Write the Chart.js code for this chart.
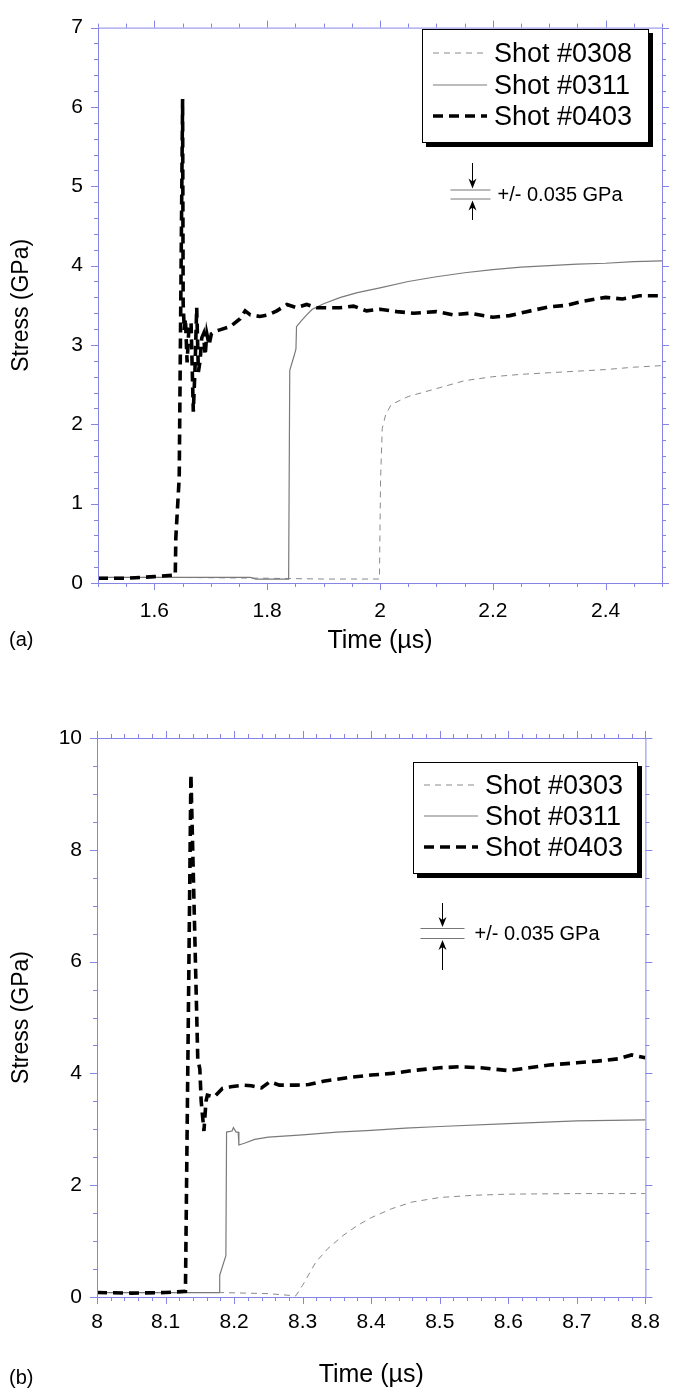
<!DOCTYPE html>
<html>
<head>
<meta charset="utf-8">
<script src="https://cdn.jsdelivr.net/npm/chart.js@4.4.1/dist/chart.umd.min.js"></script>
<style>
    body { margin: 0; background: #fff; font-family: "Liberation Sans", Arial, sans-serif; }
    .panel { position: absolute; left: 0; width: 673px; }
    .panel canvas { position: absolute; left: 0; top: 0; }
    .tag { position: absolute; left: 9px; font-size: 20px; color: #000; }
    .legend {
        position: absolute; background: #fff; border: 1.5px solid #000;
        box-shadow: 4px 4px 0 #000; box-sizing: border-box;
    }
    .legend__row { position: absolute; left: 0; height: 30px; display: flex; align-items: center; }
    .legend__row svg { margin-left: 10px; margin-right: 7px; }
    .legend__row span { font-size: 27px; line-height: 30px; color: #000; white-space: nowrap; }
</style>
</head>
<body>

<div class="panel" id="panelA" style="top:0;height:690px;">
    <canvas id="chartA" width="673" height="690"></canvas>
    <div class="tag" style="top:628px;">(a)</div>
    <div class="legend" id="legendA" style="left:422px;top:29px;width:227px;height:114px;"></div>
</div>

<div class="panel" id="panelB" style="top:690px;height:703px;">
    <canvas id="chartB" width="673" height="703"></canvas>
    <div class="tag" style="top:676px;">(b)</div>
    <div class="legend" id="legendB" style="left:413px;top:72px;width:225px;height:112px;"></div>
</div>

<script>
const axisColor = "#8585e8";

//(a) tick labels
const xTicksA = [1.6, 1.8, 2, 2.2, 2.4];
const yTicksA = [0, 1, 2, 3, 4, 5, 6, 7];

//(a) Shot #0308
const timeA308 = [1.5, 1.64, 1.8, 1.9, 1.999, 2.001, 2.004, 2.01, 2.02, 2.05, 2.1, 2.15, 2.2, 2.25, 2.3, 2.35, 2.4, 2.45, 2.5];
const stressA308 = [0.07, 0.07, 0.06, 0.05, 0.05, 1.3, 1.95, 2.12, 2.25, 2.35, 2.45, 2.55, 2.6, 2.63, 2.65, 2.67, 2.69, 2.72, 2.74];

//(a) Shot #0311
const timeA311 = [1.5, 1.64, 1.77, 1.78, 1.838, 1.84, 1.848, 1.851, 1.852, 1.86, 1.87, 1.88, 1.9, 1.93, 1.96, 2.0, 2.05, 2.1, 2.15, 2.2, 2.25, 2.3, 2.35, 2.4, 2.45, 2.5];
const stressA311 = [0.07, 0.07, 0.07, 0.05, 0.05, 2.68, 2.87, 2.95, 3.23, 3.3, 3.38, 3.45, 3.52, 3.6, 3.66, 3.72, 3.8, 3.86, 3.91, 3.95, 3.98, 4.0, 4.02, 4.03, 4.05, 4.06];

//(a) Shot #0403
const timeA403 = [1.5, 1.55, 1.6, 1.637, 1.638, 1.644, 1.65, 1.651, 1.653, 1.655, 1.658, 1.661, 1.665, 1.669, 1.672, 1.675, 1.678, 1.681, 1.684, 1.687, 1.69, 1.693, 1.697, 1.701, 1.707, 1.716, 1.734, 1.752, 1.761, 1.77, 1.787, 1.802, 1.817, 1.835, 1.852, 1.87, 1.888, 1.906, 1.929, 1.953, 1.976, 2.0, 2.03, 2.06, 2.1, 2.13, 2.16, 2.2, 2.23, 2.26, 2.3, 2.33, 2.36, 2.4, 2.43, 2.46, 2.5];
const stressA403 = [0.06, 0.06, 0.08, 0.1, 0.57, 1.33, 6.1, 3.52, 3.19, 3.33, 2.78, 3.19, 3.28, 2.16, 2.7, 3.47, 2.66, 2.8, 3.09, 3.14, 2.87, 3.14, 3.0, 3.14, 3.17, 3.19, 3.23, 3.33, 3.43, 3.38, 3.36, 3.38, 3.43, 3.51, 3.47, 3.51, 3.47, 3.47, 3.47, 3.49, 3.43, 3.45, 3.42, 3.4, 3.42, 3.38, 3.4, 3.35, 3.37, 3.42, 3.48, 3.5, 3.55, 3.6, 3.58, 3.62, 3.62];

//(b) tick labels
const xTicksB = [8, 8.1, 8.2, 8.3, 8.4, 8.5, 8.6, 8.7, 8.8];
const yTicksB = [0, 2, 4, 6, 8, 10];

//(b) Shot #0303
const timeB303 = [8.0, 8.18, 8.25, 8.29, 8.3, 8.319, 8.337, 8.359, 8.38, 8.4, 8.43, 8.46, 8.5, 8.55, 8.6, 8.7, 8.8];
const stressB303 = [0.08, 0.08, 0.06, 0.02, 0.21, 0.62, 0.87, 1.1, 1.28, 1.42, 1.58, 1.7, 1.78, 1.82, 1.84, 1.85, 1.85];

//(b) Shot #0311
const timeB311 = [8.0, 8.1, 8.178, 8.179, 8.188, 8.189, 8.197, 8.199, 8.203, 8.206, 8.207, 8.215, 8.23, 8.25, 8.3, 8.35, 8.4, 8.45, 8.5, 8.6, 8.7, 8.8];
const stressB311 = [0.08, 0.08, 0.08, 0.39, 0.74, 2.95, 2.97, 3.03, 2.95, 2.95, 2.72, 2.75, 2.82, 2.86, 2.9, 2.95, 2.98, 3.02, 3.05, 3.1, 3.15, 3.17];

//(b) Shot #0403
const timeB403 = [8.0, 8.05, 8.1, 8.129, 8.137, 8.147, 8.15, 8.152, 8.156, 8.159, 8.161, 8.171, 8.183, 8.195, 8.214, 8.225, 8.24, 8.252, 8.266, 8.29, 8.309, 8.33, 8.347, 8.37, 8.4, 8.43, 8.46, 8.5, 8.53, 8.56, 8.6, 8.63, 8.66, 8.7, 8.73, 8.76, 8.78, 8.8];
const stressB403 = [0.08, 0.07, 0.08, 0.1, 9.35, 4.26, 4.08, 3.5, 2.97, 3.5, 3.61, 3.58, 3.73, 3.76, 3.79, 3.78, 3.74, 3.85, 3.79, 3.79, 3.8, 3.86, 3.89, 3.93, 3.97, 4.0, 4.05, 4.1, 4.12, 4.1, 4.05, 4.1, 4.15, 4.19, 4.22, 4.26, 4.33, 4.28];

const styleThin = { borderColor: "#8a8a8a", borderWidth: 1, borderDash: [6, 5] };
const styleSolid = { borderColor: "#7a7a7a", borderWidth: 1.2, borderDash: [] };
const styleBold = { borderColor: "#000", borderWidth: 3.6, borderDash: [10, 6] };

const toPoints = (xs, ys) => xs.map((x, i) => ({ x: x, y: ys[i] }));

function makeDataset(label, xs, ys, style, order) {
    return {
        label: label,
        data: toPoints(xs, ys),
        borderColor: style.borderColor,
        borderWidth: style.borderWidth,
        borderDash: style.borderDash,
        pointRadius: 0,
        tension: 0,
        fill: false,
        order: order
    };
}

const fmt = (v) => String(+v.toFixed(2));

//Frame with outward major/minor ticks on all four sides
const frameTicks = {
    id: "frameTicks",
    afterDraw(chart, args, opts) {
        const { ctx, chartArea } = chart;
        const { left, right, top, bottom } = chartArea;
        const xs = chart.scales.x;
        const ys = chart.scales.y;
        ctx.save();
        ctx.strokeStyle = axisColor;
        ctx.lineWidth = 1;
        ctx.strokeRect(left + 0.5, top + 0.5, right - left, bottom - top);

        const isMajor = (v, step) => Math.abs(v / step - Math.round(v / step)) < 1e-6;

        ctx.beginPath();
        let n = Math.round((xs.max - xs.min) / opts.xMinor);
        for (let i = 0; i <= n; i++) {
            const v = xs.min + i * opts.xMinor;
            const px = Math.round(xs.getPixelForValue(v)) + 0.5;
            const len = isMajor(v, opts.xMajor) ? 7 : 4;
            ctx.moveTo(px, bottom); ctx.lineTo(px, bottom + len);
            ctx.moveTo(px, top); ctx.lineTo(px, top - len);
        }
        n = Math.round((ys.max - ys.min) / opts.yMinor);
        for (let i = 0; i <= n; i++) {
            const v = ys.min + i * opts.yMinor;
            const py = Math.round(ys.getPixelForValue(v)) + 0.5;
            const len = isMajor(v, opts.yMajor) ? 7 : 4;
            ctx.moveTo(left, py); ctx.lineTo(left - len, py);
            ctx.moveTo(right, py); ctx.lineTo(right + len, py);
        }
        ctx.stroke();
        ctx.restore();
    }
};

//+/- 0.035 GPa resolution marker
function drawArrowHead(ctx, x, tipY, dir) {
    ctx.beginPath();
    ctx.moveTo(x, tipY);
    ctx.lineTo(x - 4, tipY - dir * 10);
    ctx.lineTo(x, tipY - dir * 7);
    ctx.lineTo(x + 4, tipY - dir * 10);
    ctx.closePath();
    ctx.fill();
}

const errMark = {
    id: "errMark",
    afterDraw(chart, args, o) {
        const ctx = chart.ctx;
        const cx = Math.round(chart.scales.x.getPixelForValue(o.x)) + 0.5;
        const cy = Math.round(chart.scales.y.getPixelForValue(o.y));
        ctx.save();
        ctx.strokeStyle = "#777";
        ctx.lineWidth = 1;
        ctx.beginPath();
        ctx.moveTo(cx - o.left, cy - o.gap + 0.5); ctx.lineTo(cx + o.right, cy - o.gap + 0.5);
        ctx.moveTo(cx - o.left, cy + o.gap + 0.5); ctx.lineTo(cx + o.right, cy + o.gap + 0.5);
        ctx.stroke();
        ctx.strokeStyle = "#000";
        ctx.fillStyle = "#000";
        ctx.beginPath();
        ctx.moveTo(cx, cy - o.up); ctx.lineTo(cx, cy - o.gap - 4);
        ctx.moveTo(cx, cy + o.down); ctx.lineTo(cx, cy + o.gap + 4);
        ctx.stroke();
        drawArrowHead(ctx, cx, cy - o.gap - 1, 1);
        drawArrowHead(ctx, cx, cy + o.gap + 2, -1);
        ctx.font = "20px 'Liberation Sans', Arial, sans-serif";
        ctx.textBaseline = "middle";
        ctx.fillText(o.label, cx + o.textDx, cy + 1);
        ctx.restore();
    }
};

function buildOptions(cfg) {
    return {
        responsive: false,
        animation: false,
        layout: { padding: cfg.padding },
        plugins: {
            legend: { display: false },
            tooltip: { enabled: false },
            frameTicks: cfg.ticks,
            errMark: cfg.mark
        },
        scales: {
            x: {
                type: "linear",
                min: cfg.xMin,
                max: cfg.xMax,
                afterBuildTicks: (s) => { s.ticks = cfg.xTicks.map((v) => ({ value: v })); },
                afterFit: (s) => { s.height = cfg.xHeight; },
                grid: { display: false, drawTicks: false },
                border: { display: false },
                ticks: {
                    color: "#000",
                    padding: cfg.xPad,
                    maxRotation: 0,
                    autoSkip: false,
                    font: { family: "'Liberation Sans', Arial, sans-serif", size: 21 },
                    callback: fmt
                },
                title: {
                    display: true,
                    text: "Time (\u00b5s)",
                    color: "#000",
                    font: { family: "'Liberation Sans', Arial, sans-serif", size: 25 },
                    padding: { top: 0, bottom: cfg.titlePad }
                }
            },
            y: {
                type: "linear",
                min: cfg.yMin,
                max: cfg.yMax,
                afterBuildTicks: (s) => { s.ticks = cfg.yTicks.map((v) => ({ value: v })); },
                afterFit: (s) => { s.width = cfg.yWidth; },
                grid: { display: false, drawTicks: false },
                border: { display: false },
                ticks: {
                    color: "#000",
                    padding: 15,
                    font: { family: "'Liberation Sans', Arial, sans-serif", size: 21 },
                    callback: fmt
                },
                title: {
                    display: true,
                    text: "Stress (GPa)",
                    color: "#000",
                    font: { family: "'Liberation Sans', Arial, sans-serif", size: 23 },
                    padding: { top: 8, bottom: 0 }
                }
            }
        }
    };
}

function buildLegend(el, items, rowTops) {
    items.forEach((item, i) => {
        const row = document.createElement("div");
        row.className = "legend__row";
        row.style.top = rowTops[i] + "px";
        const dash = item.style.borderDash.length ? item.style.borderDash.join(",") : "none";
        row.innerHTML =
            '<svg width="54" height="10"><line x1="0" y1="5" x2="54" y2="5" stroke="' + item.style.borderColor +
            '" stroke-width="' + item.style.borderWidth + '" stroke-dasharray="' + dash + '"/></svg>' +
            "<span>" + item.label + "</span>";
        el.appendChild(row);
    });
}

//Chart (a)
new Chart(document.getElementById("chartA"), {
    type: "line",
    data: {
        datasets: [
            makeDataset("Shot #0403", timeA403, stressA403, styleBold, 0),
            makeDataset("Shot #0311", timeA311, stressA311, styleSolid, 1),
            makeDataset("Shot #0308", timeA308, stressA308, styleThin, 2)
        ]
    },
    options: buildOptions({
        padding: { top: 19, right: 11, left: 0, bottom: 0 },
        xMin: 1.5, xMax: 2.5, yMin: 0, yMax: 7,
        xTicks: xTicksA, yTicks: yTicksA,
        xHeight: 107, yWidth: 98, xPad: 16, titlePad: 34,
        ticks: { xMinor: 0.05, xMajor: 0.2, yMinor: 0.2, yMajor: 1 },
        mark: { x: 2.163, y: 4.9, left: 22, right: 18, gap: 4.5, up: 31, down: 26, textDx: 25, label: "+/- 0.035 GPa" }
    }),
    plugins: [frameTicks, errMark]
});

//Chart (b)
new Chart(document.getElementById("chartB"), {
    type: "line",
    data: {
        datasets: [
            makeDataset("Shot #0403", timeB403, stressB403, styleBold, 0),
            makeDataset("Shot #0311", timeB311, stressB311, styleSolid, 1),
            makeDataset("Shot #0303", timeB303, stressB303, styleThin, 2)
        ]
    },
    options: buildOptions({
        padding: { top: 48, right: 16, left: 0, bottom: 0 },
        xMin: 8, xMax: 8.8, yMin: 0, yMax: 10,
        xTicks: xTicksB, yTicks: yTicksB,
        xHeight: 96, yWidth: 97, xPad: 13, titlePad: 3,
        ticks: { xMinor: 0.02, xMajor: 0.1, yMinor: 0.5, yMajor: 2 },
        mark: { x: 8.504, y: 6.51, left: 22, right: 22, gap: 5, up: 30, down: 37, textDx: 32, label: "+/- 0.035 GPa" }
    }),
    plugins: [frameTicks, errMark]
});

buildLegend(document.getElementById("legendA"), [
    { label: "Shot #0308", style: styleThin },
    { label: "Shot #0311", style: styleSolid },
    { label: "Shot #0403", style: styleBold }
], [8, 40, 71]);

buildLegend(document.getElementById("legendB"), [
    { label: "Shot #0303", style: styleThin },
    { label: "Shot #0311", style: styleSolid },
    { label: "Shot #0403", style: styleBold }
], [7, 38, 69]);
</script>
</body>
</html>
